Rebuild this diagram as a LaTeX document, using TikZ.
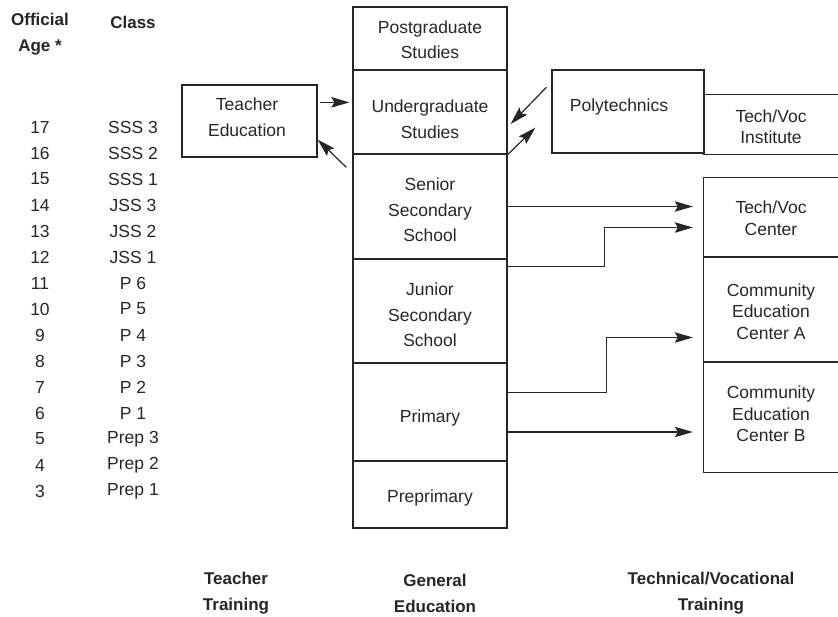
\documentclass[tikz,border=0pt]{standalone}
\usepackage{fontspec}
\setmainfont{Liberation Sans}
\usetikzlibrary{arrows.meta,positioning,calc}
\definecolor{inkgray}{RGB}{38,38,38}

\tikzset{
  boxline/.style={draw=inkgray, line width=1.3pt},
  cell/.style={boxline, minimum width=154pt, inner sep=0pt},
  opencell/.style={minimum width=134pt, inner sep=0pt},
  celltext/.style={align=center, inner sep=0pt, text=inkgray, font=\fontsize{17.5}{25.5}\selectfont},
  tighttext/.style={celltext, font=\fontsize{17.5}{21.5}\selectfont},
  agetext/.style={text=inkgray, font=\fontsize{17.5}{21}\selectfont},
  head/.style={text=inkgray, align=center, font=\bfseries\fontsize{17}{26}\selectfont},
  flow/.style={draw=inkgray, line width=1.2pt, -{Stealth[length=18pt,width=10.5pt,inset=3pt]}},
}

\begin{document}
\begin{tikzpicture}[x=1pt,y=-1pt]
    \useasboundingbox (0,0) rectangle (838,616);

    % Ages and classes
    \node[head] (agehead) at (40,34.5) {Official\\Age *};
    \node[head] (clshead) at (133,22) {Class};
    \foreach \a/\c [count=\i from 0] in {17/SSS 3,16/SSS 2,15/SSS 1,14/JSS 3,13/JSS 2,12/JSS 1,
        11/P 6,10/P 5,9/P 4,8/P 3,7/P 2,6/P 1,5/Prep 3,4/Prep 2,3/Prep 1} {
        \node[agetext] (age\a) at (40,127+\i*26) {\a};
        \node[agetext] (cls\a) at (133,127+\i*26) {\c};
    }

    % General education column
    \node[cell, minimum height=63pt] (post) at (430,38.5) {};
    \node[cell, minimum height=84pt] (under) at (430,112) {};
    \node[cell, minimum height=105pt] (senior) at (430,206.5) {};
    \node[cell, minimum height=104pt] (junior) at (430,311) {};
    \node[cell, minimum height=98pt] (primary) at (430,412) {};
    \node[cell, minimum height=67pt] (preprim) at (430,494.5) {};
    \node[celltext] (posttxt) at (430,39.5) {Postgraduate\\Studies};
    \node[celltext] (undertxt) at (430,119) {Undergraduate\\Studies};
    \node[celltext] (seniortxt) at (430,210) {Senior\\Secondary\\School};
    \node[celltext] (juniortxt) at (430,315) {Junior\\Secondary\\School};
    \node[celltext] (primarytxt) at (430,418) {Primary};
    \node[celltext] (preprimtxt) at (430,498) {Preprimary};

    % Teacher training
    \node[cell, minimum width=135pt, minimum height=72pt] (teach) at (249.5,121) {};
    \node[celltext] (teachtxt) at (247,117) {Teacher\\Education};

    % Technical/vocational
    \node[cell, minimum width=152pt, minimum height=83pt] (poly) at (628,111.5) {};
    \node[celltext] (polytxt) at (619,107) {Polytechnics};
    \node[opencell, minimum height=59pt] (inst) at (771,124.5) {};
    \node[opencell, minimum height=79pt] (center) at (771,217.5) {};
    \node[opencell, minimum height=105pt] (ceca) at (771,309.5) {};
    \node[opencell, minimum height=110pt] (cecb) at (771,417) {};
    \foreach \n in {inst,center,ceca,cecb}
        \draw[boxline] (\n.north east) -- (\n.north west) -- (\n.south west) -- (\n.south east);
    \node[tighttext] (insttxt) at (771,126.5) {Tech/Voc\\Institute};
    \node[tighttext] (centertxt) at (771,218) {Tech/Voc\\Center};
    \node[tighttext] (cecatxt) at (771,311.5) {Community\\Education\\Center A};
    \node[tighttext] (cecbtxt) at (771,414) {Community\\Education\\Center B};

    % Teacher arrows
    \coordinate (teachout) at ([yshift=-18pt]teach.north east);
    \draw[flow, shorten <=2pt, shorten >=3pt] (teachout) -- (teachout -| under.west);
    \coordinate (teachin) at ([xshift=-6pt,yshift=-14pt]senior.north west);
    \draw[flow] (teachin) -- ([yshift=18pt]teach.south east);

    % Polytechnic arrows
    \draw[flow] ([xshift=-5pt,yshift=-18pt]poly.north west) -- ([xshift=3pt,yshift=-12pt]under.east);
    \draw[flow] (under.south east) -- ([xshift=-16pt,yshift=26pt]poly.south west);

    % Routes to tech/voc
    \draw[flow] (senior.east) -- ([xshift=-11pt]senior.east -| center.west);
    \draw[flow] ([yshift=-8pt]junior.north east) -- ++(97,0) |- ([xshift=-11pt,yshift=-10pt]center.west);
    \draw[flow] ([yshift=-30pt]primary.north east) -- ++(99,0) |- ([xshift=-11pt,yshift=-28pt]ceca.west);
    \draw[flow] ([yshift=-20pt]primary.east) -- ([xshift=-11pt,yshift=-20pt]primary.east -| cecb.west);

    % Column titles
    \node[head] (ttrain) at (236,593) {Teacher\\Training};
    \node[head] (gedu) at (435,593) {General\\Education};
    \node[head] (tvet) at (711,593) {Technical/Vocational\\Training};
\end{tikzpicture}
\end{document}
